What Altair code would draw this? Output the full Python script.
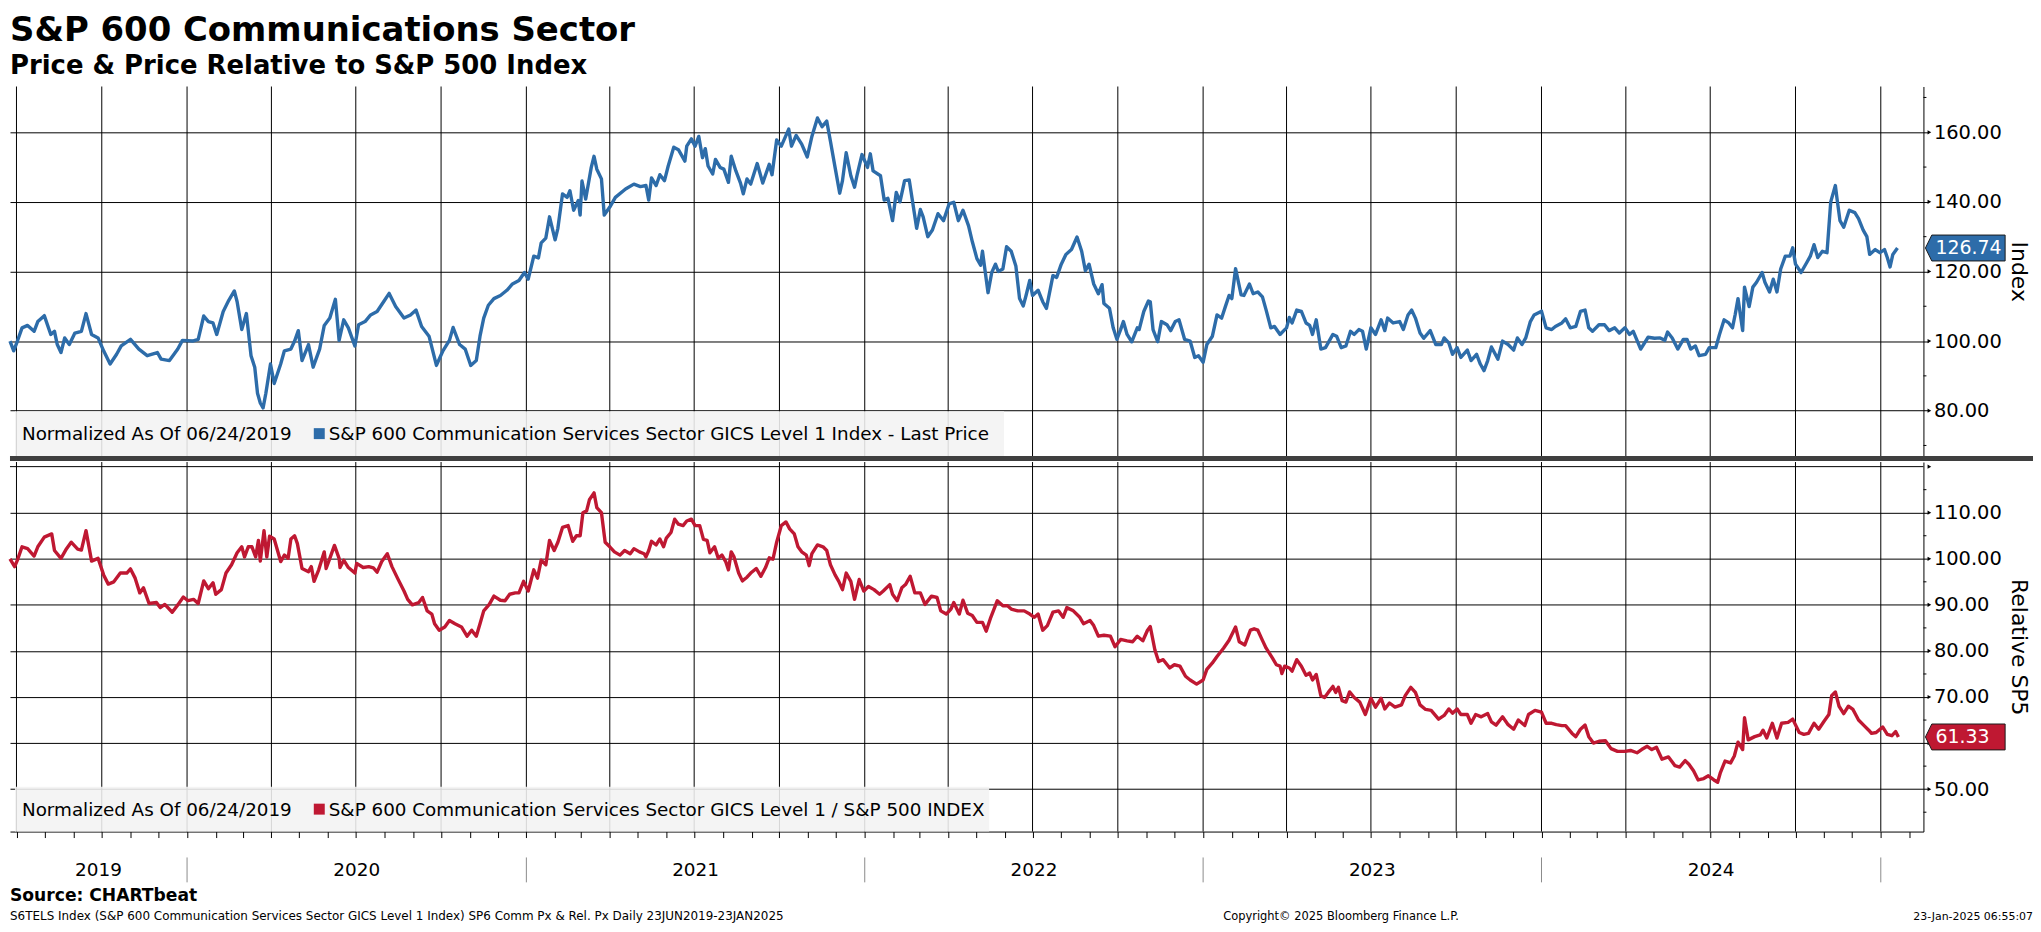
import altair as alt
import pandas as pd

# ---------------- data (day offset from 2019-06-24, value) ----------------
px_days = [0,4,8,13,19,26,30,37,44,48,51,55,59,64,70,77,82,88,95,101,108,115,120,130,139,148,159,163,172,181,186,197,203,209,214,219,223,230,236,242,245,250,255,260,264,267,270,273,276,281,285,292,296,303,307,311,315,322,327,334,339,345,351,355,360,365,372,376,383,389,396,403,409,416,425,432,438,444,452,460,467,474,478,485,491,497,503,507,511,516,522,529,536,542,549,555,559,565,570,573,578,582,588,591,596,601,604,608,613,615,617,621,627,630,633,638,641,647,653,664,673,680,
           686,689,692,697,701,706,710,716,721,728,730,735,739,743,747,750,753,758,761,766,770,775,778,783,788,791,795,799,806,812,819,822,827,832,840,843,848,854,860,865,871,876,881,885,890,895,898,902,907,911,914,919,925,928,931,939,943,947,952,956,960,965,970,974,978,982,985,990,995,1001,1007,1013,1018,1023,1028,1034,1038,1043,1047,1049,1055,1059,1063,1066,1071,1075,1080,1085,1089,1093,1096,1100,1103,1109,1114,1118,1125,1129,1134,1139,1145,1151,1156,1160,1164,1169,1174,1178,1180,1186,1190,1194,1198,1201,1205,1210,1216,1218,1223,1228,1230,1233,1238,1242,1248,1252,1257,1261,1267,1273,1278,1282,1287,1291,1297,1302,1307,1311,1315,1318,1322,1328,1331,1337,1341,1346,1351,1355,1360,1364,
           1370,1374,1377,1380,1383,1388,1393,1398,1402,1405,1409,1414,1419,1427,1431,1436,1441,1446,1450,1455,1459,1463,1468,1473,1479,1483,1486,1492,1499,1503,1508,1512,1516,1521,1525,1532,1538,1544,1547,1552,1556,1561,1565,1572,1576,1582,1586,1590,1594,1598,1605,1610,1616,1622,1626,1631,1635,1640,1644,1652,1657,1663,1667,1674,1678,1683,1689,1694,1699,1703,1707,1714,1720,1725,1731,1736,1742,1747,1751,1759,1767,1774,1780,1785,1788,1793,1799,1805,1809,1813,1818,1822,1829,1833,1840,1844,1849,1854,1858,1861,1864,1869,1871,1876,1880,1884,1890,1893,1898,1902,1906,1910,1915,1920,1923,1926,1932,1938,1942,1946,1950,1955,1960,1964,1969,1971,1974,1978,1984,1990,1994,1999,2003,2006,2012,2017,2022,2025,2028,2031,2036]
px_vals = [100,97.2,100,103.8,104.5,102.8,105.6,107.3,101.9,102.8,99,96.7,100.9,99,102.3,102.8,107.9,101.9,100.9,97.2,93.4,96.2,98.6,100.5,97.7,95.8,96.7,94.8,94.4,97.7,100.2,100,100.5,107.2,105.6,105.2,101.9,108.5,111.7,114.4,111.3,103.3,107.9,95.8,92.5,85,82.2,80.8,85,93.4,87.8,93.4,97.2,97.7,100,103,94.4,99,92.5,97.7,104.5,106.6,112,100.2,106.1,103.8,98.6,104.7,105.6,107.5,108.5,111.3,113.7,109.9,106.6,107.5,108.9,104.2,101.4,93,97.2,100.2,103.9,99,97.7,93,94.4,101.4,106.6,110.3,112.2,113.1,114.6,116.4,117.4,119.7,117.8,124.4,123.9,128.2,129.6,135.7,129.1,132.4,142.3,141.3,143.2,137.6,140.4,136.2,146,140.8,149.9,153.1,149.4,146.6,136.2,138.5,141.3,143.7,145.1,144.4,
           144.7,140.5,146.9,144.7,147.8,146.1,150.3,155.7,155,151.7,156,158.1,156,158.8,152.7,155.3,150.3,148,152.2,149.9,149.4,145.6,153.1,148.9,145.4,142.3,146.6,145.1,151,145.4,150.8,147.8,157.8,156,160.9,156,159.1,156.6,152.9,158.8,164.1,161.6,163.2,157.4,149.9,142.5,146.1,154.1,147.5,144.2,148,153.6,149.9,153.8,148.9,147.5,140.5,141,134.6,142.7,140,146.1,146.3,139.4,132.4,137.8,135.7,130,131.9,136.6,134.6,139.4,139.9,134.6,137.6,133.1,128.6,123.7,121.8,125.8,113.9,119.7,122.1,120,120.7,127.1,125.8,121.6,112.2,110.1,113.1,117.4,113.1,114.6,111.3,109.4,118.8,118.3,122.1,124.9,126.3,129.9,125.8,120.2,122.1,116.4,113.6,116.2,110.8,109.4,103.8,100.5,103.3,105.6,101.9,99.8,103.8,103.3,108.5,111.5,111.3,103.3,99.8,105.6,104.7,103,105.6,106.1,100.5,100,95.3,95.8,93.9,99,101.4,107.5,106.6,109.9,113.1,112.2,120.8,113.3,113.1,116.4,113.6,114.1,112.7,108.9,103.8,104.2,
           101.9,103,103.8,106.8,105.2,108.9,108.5,105.2,104.5,101.9,106.1,97.7,98.1,101.9,101.4,98.1,98.6,102.8,101.9,103.3,102.8,97.7,103.8,101.9,106.1,103,106.6,105.2,105.6,103.3,107.5,108.9,106.6,102.3,100.8,103,99,99,100.9,99.5,96.2,98.1,95.3,97.4,94.4,96.2,93.4,91.5,94.4,98.3,94.8,100,99,97.4,100.9,99,100.9,105.6,107.5,108.6,103.8,103.3,104.2,105.2,106.4,103.8,104.2,108.5,108.9,103.8,102.8,104.7,104.7,103,103.8,102.3,103.8,101.9,102.8,97.7,101.1,100.8,100.9,100.2,102.6,100.9,97.7,100.5,100.5,97.7,98.6,95.8,96.2,98.1,98.1,101.9,106.1,105.2,103.8,107.7,112.2,103,115.5,109.9,115.5,116.9,119.7,116.9,114.1,117.8,114.1,120.7,124.4,124.4,126.8,122.1,119.7,122.5,124.4,127.7,124,125.8,125.4,140,144.7,140.5,134.6,132.7,137.6,136.9,135.2,131.9,130,124.9,126.3,125.4,126.3,124,121.3,124.9,126.74]

rel_days = [0,5,8,13,19,26,30,37,45,48,55,61,66,73,77,82,88,95,101,106,112,119,126,130,135,140,144,150,158,162,167,175,181,187,192,198,203,209,214,219,222,228,233,239,245,250,253,257,261,265,268,270,274,277,280,285,292,296,300,303,307,310,315,322,325,328,333,339,341,345,350,355,356,360,365,372,374,381,387,392,396,401,407,412,418,425,429,434,441,445,450,455,458,463,469,474,480,487,493,498,503,507,511,517,522,529,534,539,545,549,554,559,565,569,573,578,582,587,591,596,602,607,611,615,618,622,625,630,633,638,642,647,652,658,663,669,673,679,684,
            686,689,692,697,701,705,708,713,717,721,726,730,735,739,744,748,752,755,760,764,768,772,775,778,781,786,790,795,799,805,810,815,819,823,827,832,837,841,846,850,854,859,862,865,871,877,881,885,890,894,898,902,907,911,916,921,926,932,938,942,949,952,957,962,966,971,976,982,987,994,1000,1004,1010,1015,1018,1024,1028,1033,1038,1043,1049,1053,1058,1065,1071,1076,1080,1087,1094,1100,1105,1109,1114,1119,1125,1131,1136,1140,1147,1154,1158,1165,1169,1174,1180,1187,1192,1198,1205,1211,1216,1222,1227,1230,1235,1239,1244,1251,1256,1262,1268,1273,1280,1287,1291,1297,1302,1309,1315,1322,1326,1332,1338,1342,1346,1351,1355,1362,1366,
            1370,1372,1375,1380,1383,1388,1393,1398,1402,1405,1409,1414,1418,1422,1427,1430,1433,1437,1441,1445,1450,1456,1462,1468,1473,1479,1483,1488,1494,1501,1505,1511,1516,1521,1527,1533,1541,1547,1552,1556,1561,1565,1572,1576,1581,1587,1594,1598,1603,1610,1616,1622,1627,1634,1638,1645,1652,1657,1663,1668,1674,1678,1685,1689,1694,1699,1703,1708,1714,1721,1727,1734,1742,1748,1755,1760,1766,1771,1776,1782,1789,1796,1801,1807,1811,1816,1821,1827,1832,1838,1842,1845,1850,1856,1860,1864,1869,1871,1875,1882,1888,1891,1895,1901,1906,1911,1918,1923,1930,1935,1940,1946,1951,1957,1962,1965,1969,1973,1978,1983,1988,1994,2000,2005,2008,2013,2020,2025,2030,2034,2037]
rel_vals = [100,98.3,99.7,102.6,102.2,100.6,102.6,104.7,105.4,101.8,100.1,102.2,103.6,102.1,101.9,106.1,99.5,100.1,96.5,94.5,95,96.9,96.9,97.8,95.8,92.6,93.7,90.3,90.5,89.4,90.1,88.4,90,91.7,90.9,91.2,90.3,95.2,93.5,94.8,92.3,93.3,96.9,98.7,101.3,102.6,100.4,102.6,102.6,100.4,104,99.5,106.1,100.4,104.9,104.3,99.4,100.8,100.1,104.3,105,103.3,97.9,97.2,98.3,95.1,97.6,101.5,97.9,100.1,102.9,100.1,98.1,99.7,98.1,96.9,99,98.1,98.3,98,97.1,99.4,101.1,98.3,95.8,93,91.2,90,90.5,91.6,88.7,88,85.9,84.5,85.2,86.6,85.9,85.2,83.2,84.5,83.2,85.9,88.7,90.1,91.9,91,90.9,92.3,92.6,92.6,95.1,93,97.6,95.8,99.7,98.7,104,101.8,103.6,106.8,107.2,103.8,105,105,110,110.4,112.8,114.3,111.1,110,103.6,102.6,101.5,100.8,101.8,101.1,102.2,101.5,101.1,
            100.4,101.8,103.8,103,104.3,102.6,104.5,105.7,108.6,107.5,107.2,108.2,108.6,107.2,107.2,104.2,104,101.3,102.6,100.1,100.8,99.4,97.6,101.5,100.4,96.9,95.2,96,96.9,97.9,96.2,98.1,100.2,99.9,103.6,107.2,108,106.5,105.4,102.6,101.5,100.8,98.5,101.1,103,102.6,101.8,98.7,96.5,95.1,93.3,96.9,95.1,91.2,95.5,93,94,93.3,92.3,93,94.4,92.3,90.9,93.7,94.4,96.2,92.6,92.6,90.1,91.9,91.6,88.7,88,89.1,90.5,88,91,88.2,87.7,86.2,86.2,84.3,87.3,90.9,89.8,89.8,89.1,88.7,88.7,88,87.3,88,84.5,85.5,88.4,88.7,87.3,89.4,88.7,87.3,85.9,86.6,85.5,83.2,83.4,83.2,80.9,82.5,82.2,82,83.2,82.2,84.5,85.3,80.2,77.7,78.1,76.3,77,76.7,74.5,73.7,72.8,73.7,76,77.4,78.8,80.6,82.3,85.2,82,81.3,84.5,84.8,84.5,82.3,80.6,78.4,77,
            76.7,75.1,76.7,76.3,75.6,78.1,76.7,74.7,75.2,73.7,74.9,70.3,69.9,71,72.3,71,72.1,69.2,68.9,71.1,69.9,68.9,66.2,69.7,67.8,69.7,67.4,68.7,67.8,68.3,70.3,72.1,71,68.3,67.3,67.1,65.2,66,67.4,66.5,67.4,66.2,66.2,64.3,66.2,65.7,66.4,64.6,63.9,65.7,64,63,65,63.8,66.2,67.1,66.7,64.3,64.3,64,63.8,63.8,62.1,61.4,63,63.9,61.4,60,60.4,60.5,58.8,58.2,58.2,58.4,57.9,58.6,59.3,58.6,59.1,56.5,57,55.1,54.8,56.2,55.4,54,52,52.3,52.9,52,51.5,53.6,56.1,55.7,57.2,60.2,58.6,65.5,60.7,61.4,61.8,62.8,61.1,64.3,61.1,64.3,64.5,65.2,62.3,61.9,62.1,64.3,63,64.8,66.2,70.3,71.1,68,66.4,68,67.3,65,63.8,62.8,62.1,62.3,63.5,61.9,61.6,62.5,61.33]

px_last = 126.74
rel_last = 61.33

px_major = [80, 100, 120, 140, 160]
px_minor = [70, 90, 110, 130, 150, 170]
rel_major = [50, 60, 70, 80, 90, 100, 110]
rel_minor = [45, 55, 65, 75, 85, 95, 105, 115]
rel_extra_grid = [120]
years = [2019, 2020, 2021, 2022, 2023, 2024]

title_txt = "S&P 600 Communications Sector"
subtitle_txt = "Price & Price Relative to S&P 500 Index"
leg_norm = "Normalized As Of 06/24/2019"
leg_top = "S&P 600 Communication Services Sector GICS Level 1 Index - Last Price"
leg_bot = "S&P 600 Communication Services Sector GICS Level 1 / S&P 500 INDEX"
ax_top = "Index"
ax_bot = "Relative SP5"
source_txt = "Source: CHARTbeat"
footer_txt = "S6TELS Index (S&P 600 Communication Services Sector GICS Level 1 Index) SP6 Comm Px & Rel. Px  Daily 23JUN2019-23JAN2025"
copyright_txt = "Copyright\u00a9 2025 Bloomberg Finance L.P."
stamp_txt = "23-Jan-2025 06:55:07"

# ---------------- frames ----------------
START = pd.Timestamp("2019-06-24")
top_df = pd.DataFrame({"date": START + pd.to_timedelta(px_days, unit="D"), "v": px_vals})
bot_df = pd.DataFrame({"date": START + pd.to_timedelta(rel_days, unit="D"), "v": rel_vals})
q_df = pd.DataFrame({"date": pd.date_range("2019-07-01", "2025-01-01", freq="QS")})
ysep_df = pd.DataFrame({"date": pd.date_range("2020-01-01", "2025-01-01", freq="YS")})
ylab_dates = []
for y in years:
    a = max(pd.Timestamp(f"{y}-01-01"), START)
    b = pd.Timestamp(f"{y + 1}-01-01")
    ylab_dates.append(a + (b - a) / 2)
ylab_df = pd.DataFrame({"date": ylab_dates, "year": [str(y) for y in years]})
one = pd.DataFrame({"k": [0]})

W = 1921
H1 = 371
H2 = 371
FONT = "DejaVu Sans"
BLUE = "#2d6ca9"
RED = "#bf1832"
BOX = "M-1,0L-0.84,-0.325L1,-0.325L1,0.325L-0.84,0.325Z"

xscale = alt.Scale(domain=[alt.DateTime(year=2019, month=6, date=24),
                           alt.DateTime(year=2025, month=2, date=16)])
ys_top = alt.Scale(domain=[66.96, 173.15], nice=False, zero=False)
ys_bot = alt.Scale(domain=[40.8, 121.0], nice=False, zero=False)


def yaxis(values, title):
    return alt.Axis(orient="right", values=values, format=".2f", labelFont=FONT,
                    labelFontSize=19.5, labelColor="black", labelPadding=5,
                    tickSize=5, tickColor="black", tickWidth=1,
                    domainColor="black", domainWidth=1,
                    grid=True, gridColor="black", gridWidth=1, gridOpacity=1,
                    title=title, titleFont=FONT, titleFontSize=22,
                    titleFontWeight="normal", titleColor="black", titlePadding=5)


def txt(s, x, y, size, weight="normal", align="left", baseline="alphabetic", color="black"):
    return alt.Chart(one).mark_text(text=s, font=FONT, fontSize=size, fontWeight=weight,
                                    align=align, baseline=baseline, color=color).encode(
        x=alt.value(x), y=alt.value(y))


def panel(df, ys, yax, xenc, H, major, minor, last, color, legend_label, box_right, extra_grid=None):
    def yenc():
        return alt.Y("v:Q", scale=ys, axis=yax)
    layers = []
    layers.append(alt.Chart(q_df).mark_rule(color="black", strokeWidth=1).encode(x=xenc))
    if extra_grid:
        layers.append(alt.Chart(pd.DataFrame({"v": extra_grid})).mark_rule(color="black", strokeWidth=1)
                      .encode(y=yenc()))
    layers.append(alt.Chart(one).mark_rect(fill="#f2f2f2", opacity=0.88).encode(
        x=alt.value(5), x2=alt.value(box_right), y=alt.value(H - 45), y2=alt.value(H)))
    layers.append(txt(leg_norm, 12, H - 22, 18.4, baseline="middle"))
    layers.append(alt.Chart(one).mark_rect(fill=color).encode(
        x=alt.value(305), x2=alt.value(316), y=alt.value(H - 28), y2=alt.value(H - 17)))
    layers.append(txt(legend_label, 320, H - 22, 18.4, baseline="middle"))
    layers.append(alt.Chart(df).mark_line(color=color, strokeWidth=3.4, strokeJoin="round").encode(
        x=xenc, y=yenc()))
    layers.append(alt.Chart(pd.DataFrame({"v": minor})).mark_rule(color="black").encode(
        y=yenc(), x=alt.value(W), x2=alt.value(W + 3)))
    layers.append(alt.Chart(pd.DataFrame({"v": major + (extra_grid or [])})).mark_point(
        shape="triangle-right", filled=True, size=18, color="black", opacity=1).encode(
        y=yenc(), x=alt.value(W + 6)))
    lastdf = pd.DataFrame({"v": [last]})
    layers.append(alt.Chart(lastdf).mark_point(shape=BOX, filled=True, size=6400, fill=color,
                                               stroke="#1a1a1a", strokeWidth=1, opacity=1).encode(
        y=yenc(), x=alt.value(W + 42)))
    layers.append(alt.Chart(lastdf).mark_text(font=FONT, fontSize=19, color="white", align="left",
                                              baseline="middle").encode(
        y=yenc(), x=alt.value(W + 12), text=alt.Text("v:Q", format=".2f")))
    return layers


x_top = alt.X("date:T", scale=xscale, axis=None)
x_bot = alt.X("date:T", scale=xscale,
              axis=alt.Axis(orient="bottom", labels=False, title=None, grid=False,
                            tickCount={"interval": "month", "step": 1}, tickSize=6,
                            tickColor="black", tickWidth=1, domainColor="black", domainWidth=1))

top_layers = panel(top_df, ys_top, yaxis(px_major, ax_top), x_top, H1, px_major, px_minor,
                   px_last, BLUE, leg_top, 998)
top_layers.append(txt(title_txt, 0, -46, 34, weight="bold"))
top_layers.append(txt(subtitle_txt, 0, -13, 26, weight="bold"))
top_layers.append(alt.Chart(one).mark_rect(fill="#3f3f3f").encode(
    x=alt.value(0), x2=alt.value(W + 110), y=alt.value(H1), y2=alt.value(H1 + 5)))
top = alt.layer(*top_layers).properties(width=W, height=H1)

bot_layers = panel(bot_df, ys_bot, yaxis(rel_major, ax_bot), x_bot, H2, rel_major, rel_minor,
                   rel_last, RED, leg_bot, 983, extra_grid=rel_extra_grid)
bot_layers.append(alt.Chart(ysep_df).mark_rule(color="#8a8a8a").encode(
    x=x_bot, y=alt.value(H2 + 26), y2=alt.value(H2 + 51)))
bot_layers.append(alt.Chart(ylab_df).mark_text(font=FONT, fontSize=18.5, color="black",
                                               baseline="middle").encode(
    x=x_bot, y=alt.value(H2 + 39), text="year:N"))
bot_layers.append(txt(source_txt, 0, H2 + 70, 17.2, weight="bold"))
bot_layers.append(txt(footer_txt, 0, H2 + 89, 12))
bot_layers.append(txt(copyright_txt, 1218, H2 + 89, 11.5))
bot_layers.append(txt(stamp_txt, W + 110, H2 + 89, 11, align="right"))
bot = alt.layer(*bot_layers).properties(width=W, height=H2)

chart = alt.vconcat(top, bot, spacing=0).properties(
    padding={"top": 4, "left": 0, "right": 0, "bottom": 0},
    background="white").configure_view(stroke=None)

chart.save("out.html", embed_options={"renderer": "svg", "actions": False})
